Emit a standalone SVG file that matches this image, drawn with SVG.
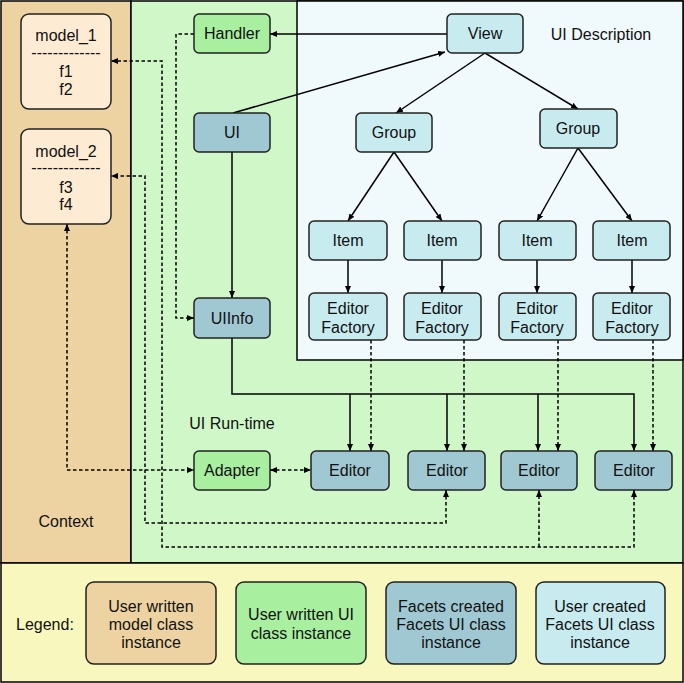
<svg xmlns="http://www.w3.org/2000/svg" width="684" height="683" viewBox="0 0 684 683">
<defs>
<marker id="ah" viewBox="0 0 7 6" refX="7" refY="3" markerWidth="7" markerHeight="6" markerUnits="userSpaceOnUse" orient="auto-start-reverse"><path d="M0,0 L7,3 L0,6 z" fill="#000"/></marker>
<style>
text{font-family:"Liberation Sans",Arial,sans-serif;font-size:16px;fill:#111;}
.c{text-anchor:middle;}
.panel{stroke:#000;stroke-width:1.5;}
.n rect{stroke:#222;stroke-width:1.5;}
.model{fill:#FDEBD3;}
.green{fill:#A8EFA0;}
.dark{fill:#A0C8D2;}
.light{fill:#C8EBF0;}
.conn path{fill:none;stroke:#000;stroke-width:1.5;}
.conn .d{stroke-dasharray:3.5,2.5;}
</style>
</defs>
<g id="panels">
<rect class="panel" x="1" y="1" width="130" height="562" fill="#EDD3A1"/>
<rect class="panel" x="131" y="1" width="552" height="562" fill="#CFF7C8"/>
<rect class="panel" x="297" y="1" width="386" height="359" fill="#F0F9FB"/>
<rect class="panel" x="1" y="563" width="682" height="119" fill="#F8F7BE"/>
<text x="601" y="40" class="c">UI Description</text>
<text x="232" y="429" class="c">UI Run-time</text>
<text x="66" y="527" class="c">Context</text>
</g>
<g class="conn" id="connectors">
<path d="M447,34 H270" marker-end="url(#ah)"/>
<path d="M233,113 L445,52" marker-end="url(#ah)"/>
<path d="M485,53 L396,113" marker-end="url(#ah)"/>
<path d="M485,53 L578,109" marker-end="url(#ah)"/>
<path d="M394,152 L348,221" marker-end="url(#ah)"/>
<path d="M394,152 L442,221" marker-end="url(#ah)"/>
<path d="M578,148 L537,221" marker-end="url(#ah)"/>
<path d="M578,148 L632,221" marker-end="url(#ah)"/>
<path d="M348,260 V293" marker-end="url(#ah)"/>
<path d="M442,260 V293" marker-end="url(#ah)"/>
<path d="M537,260 V293" marker-end="url(#ah)"/>
<path d="M632,260 V293" marker-end="url(#ah)"/>
<path d="M232,152 V298" marker-end="url(#ah)"/>
<path d="M232,338 V394 H634 V451" marker-end="url(#ah)"/>
<path d="M350,394 V451" marker-end="url(#ah)"/>
<path d="M447,394 V451" marker-end="url(#ah)"/>
<path d="M538,394 V451" marker-end="url(#ah)"/>
<path class="d" d="M371,340 V451" marker-end="url(#ah)"/>
<path class="d" d="M464,340 V451" marker-end="url(#ah)"/>
<path class="d" d="M558,340 V451" marker-end="url(#ah)"/>
<path class="d" d="M653,340 V451" marker-end="url(#ah)"/>
<path class="d" d="M194,34 H176 V318 H194" marker-end="url(#ah)"/>
<path class="d" d="M634,490 V547 H162 V61 H111" marker-start="url(#ah)" marker-end="url(#ah)"/>
<path class="d" d="M539,547 V490" marker-end="url(#ah)"/>
<path class="d" d="M446,490 V523 H145 V176 H111" marker-start="url(#ah)" marker-end="url(#ah)"/>
<path class="d" d="M67,224 V470 H194" marker-start="url(#ah)" marker-end="url(#ah)"/>
<path class="d" d="M270,470 H311" marker-start="url(#ah)" marker-end="url(#ah)"/>
</g>
<g id="model_1" class="n"><rect class="model" x="21" y="14" width="90" height="95" rx="8"/>
<text x="66" y="41" class="c">model_1</text><text x="66" y="58" class="c">-------------</text><text x="66" y="77" class="c">f1</text><text x="66" y="95" class="c">f2</text></g>
<g id="model_2" class="n"><rect class="model" x="21" y="129" width="90" height="95" rx="8"/>
<text x="66" y="157" class="c">model_2</text><text x="66" y="173" class="c">-------------</text><text x="66" y="193" class="c">f3</text><text x="66" y="210" class="c">f4</text></g>
<g id="handler" class="n"><rect class="green" x="194" y="14" width="76" height="39" rx="5"/><text x="232" y="39" class="c">Handler</text></g>
<g id="ui" class="n"><rect class="dark" x="194" y="113" width="76" height="39" rx="5"/><text x="232" y="138" class="c">UI</text></g>
<g id="uiinfo" class="n"><rect class="dark" x="194" y="298" width="76" height="40" rx="5"/><text x="232" y="324" class="c">UIInfo</text></g>
<g id="adapter" class="n"><rect class="green" x="194" y="451" width="76" height="39" rx="5"/><text x="232" y="476" class="c">Adapter</text></g>
<g id="view" class="n"><rect class="light" x="447" y="14" width="76" height="39" rx="5"/><text x="485" y="39" class="c">View</text></g>
<g id="group1" class="n"><rect class="light" x="356" y="113" width="76" height="39" rx="5"/><text x="394" y="138" class="c">Group</text></g>
<g id="group2" class="n"><rect class="light" x="540" y="109" width="77" height="39" rx="5"/><text x="578" y="134" class="c">Group</text></g>
<g id="item1" class="n"><rect class="light" x="309" y="221" width="78" height="39" rx="5"/><text x="348" y="246" class="c">Item</text></g>
<g id="item2" class="n"><rect class="light" x="404" y="221" width="77" height="39" rx="5"/><text x="442" y="246" class="c">Item</text></g>
<g id="item3" class="n"><rect class="light" x="499" y="221" width="77" height="39" rx="5"/><text x="537" y="246" class="c">Item</text></g>
<g id="item4" class="n"><rect class="light" x="593" y="221" width="77" height="39" rx="5"/><text x="632" y="246" class="c">Item</text></g>
<g id="factory1" class="n"><rect class="light" x="309" y="293" width="78" height="47" rx="5"/><text x="348" y="314" class="c">Editor</text><text x="348" y="333" class="c">Factory</text></g>
<g id="factory2" class="n"><rect class="light" x="404" y="293" width="77" height="47" rx="5"/><text x="442" y="314" class="c">Editor</text><text x="442" y="333" class="c">Factory</text></g>
<g id="factory3" class="n"><rect class="light" x="499" y="293" width="77" height="47" rx="5"/><text x="537" y="314" class="c">Editor</text><text x="537" y="333" class="c">Factory</text></g>
<g id="factory4" class="n"><rect class="light" x="593" y="293" width="77" height="47" rx="5"/><text x="632" y="314" class="c">Editor</text><text x="632" y="333" class="c">Factory</text></g>
<g id="editor1" class="n"><rect class="dark" x="311" y="451" width="78" height="39" rx="5"/><text x="350" y="476" class="c">Editor</text></g>
<g id="editor2" class="n"><rect class="dark" x="408" y="451" width="77" height="39" rx="5"/><text x="447" y="476" class="c">Editor</text></g>
<g id="editor3" class="n"><rect class="dark" x="501" y="451" width="76" height="39" rx="5"/><text x="539" y="476" class="c">Editor</text></g>
<g id="editor4" class="n"><rect class="dark" x="595" y="451" width="77" height="39" rx="5"/><text x="634" y="476" class="c">Editor</text></g>
<g id="legend">
<text x="16" y="630">Legend:</text>
<g id="legend1" class="n"><rect fill="#EDD3A1" x="86" y="582" width="130" height="82" rx="8"/><text x="151" y="612" class="c">User written</text><text x="151" y="630" class="c">model class</text><text x="151" y="648" class="c">instance</text></g>
<g id="legend2" class="n"><rect class="green" x="236" y="582" width="130" height="82" rx="8"/><text x="301" y="620" class="c">User written UI</text><text x="301" y="639" class="c">class instance</text></g>
<g id="legend3" class="n"><rect class="dark" x="386" y="582" width="130" height="82" rx="8"/><text x="451" y="612" class="c">Facets created</text><text x="451" y="630" class="c">Facets UI class</text><text x="451" y="648" class="c">instance</text></g>
<g id="legend4" class="n"><rect class="light" x="536" y="582" width="129" height="82" rx="8"/><text x="600" y="612" class="c">User created</text><text x="600" y="630" class="c">Facets UI class</text><text x="600" y="648" class="c">instance</text></g>
</g>
</svg>
